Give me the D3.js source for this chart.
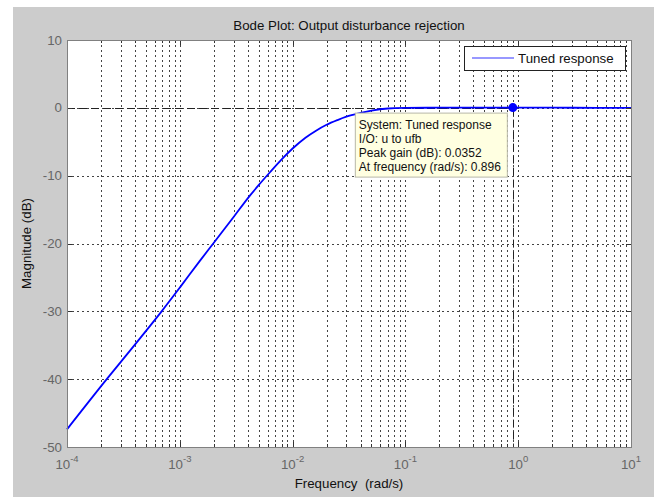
<!DOCTYPE html>
<html lang="en">
<head>
<meta charset="utf-8">
<title>Bode Plot: Output disturbance rejection</title>
<script src="https://cdn.jsdelivr.net/npm/d3@7"></script>
<style>
body { margin: 0; background: #fff; }
svg text { font-family: Arial, "Liberation Sans", Helvetica, sans-serif; }
</style>
</head>
<body>
<script>
// magnitude response (rad/s, dB)
var freq  = [1e-4, 2.25e-4, 4e-4, 6.9e-4, 1e-3, 1.5e-3, 1.98e-3, 3e-3, 4.2e-3, 5e-3, 6.3e-3,
             8e-3, 1e-2, 1.3e-2, 1.6e-2, 2e-2, 2.5e-2, 3e-2, 4e-2, 5e-2, 7e-2, 0.1, 0.2, 0.5, 0.896, 2, 5, 10];
var magDb = [-47.4, -40, -34.9, -30, -26.5, -22.6, -20, -16.1, -12.9, -11.4, -9.5,
             -7.6, -6.0, -4.4, -3.4, -2.5, -1.8, -1.3, -0.75, -0.4, -0.1, -0.02, 0.02, 0.033, 0.0352, 0.02, 0.005, 0.0];

var xTickExp = [-4, -3, -2, -1, 0, 1];
var yTicks = [10, 0, -10, -20, -30, -40, -50];

var seriesName = "Tuned response";
var peakFreq = 0.896, peakGain = 0.0352;
var tipLines = ["System: Tuned response", "I/O: u to ufb", "Peak gain (dB): 0.0352", "At frequency (rad/s): 0.896"];

var W = 654, H = 497;
var margin = {top: 40, right: 23, bottom: 50, left: 67},
    width = W - margin.left - margin.right,
    height = H - margin.top - margin.bottom;

var svg = d3.select("body").append("svg")
    .attr("width", W)
    .attr("height", H);

// figure background
svg.append("rect").attr("x", 13).attr("y", 7).attr("width", W - 13).attr("height", H - 7).attr("fill", "#cccccc");

var x = d3.scaleLog().domain([1e-4, 10]).range([0, width]);
var y = d3.scaleLinear().domain([-50, 10]).range([height, 0]);

var g = svg.append("g").attr("transform", "translate(" + margin.left + "," + margin.top + ")");

g.append("rect").attr("width", width).attr("height", height).attr("fill", "#fff");

// grid
var gridX = [];
xTickExp.forEach(function(e) {
  for (var k = 1; k < 10; k++) {
    var f = k * Math.pow(10, e);
    if (f > 1e-4 && f < 10) gridX.push(f);
  }
});
var gridY = yTicks.filter(function(v) { return v > -50 && v < 10; });

g.selectAll(".gx").data(gridX).enter().append("line")
  .attr("x1", function(d) { return Math.round(x(d)) + 0.5; })
  .attr("x2", function(d) { return Math.round(x(d)) + 0.5; })
  .attr("y1", 0).attr("y2", height)
  .attr("stroke", "#444").attr("stroke-dasharray", "2,3");

g.selectAll(".gy").data(gridY).enter().append("line")
  .attr("y1", function(d) { return Math.round(y(d)) + 0.5; })
  .attr("y2", function(d) { return Math.round(y(d)) + 0.5; })
  .attr("x1", 0).attr("x2", width)
  .attr("stroke", "#444").attr("stroke-dasharray", "2,3");

// data cursor reference lines
var px = x(peakFreq), py = y(peakGain);
g.append("line").attr("x1", 0).attr("x2", px).attr("y1", Math.round(py) + 0.5).attr("y2", Math.round(py) + 0.5)
  .attr("stroke", "#222").attr("stroke-dasharray", "8,4");
g.append("line").attr("x1", Math.round(px) + 0.5).attr("x2", Math.round(px) + 0.5).attr("y1", py).attr("y2", height)
  .attr("stroke", "#222").attr("stroke-dasharray", "8,4");

// response curve
var line = d3.line()
  .x(function(d, i) { return x(freq[i]); })
  .y(function(d) { return y(d); })
  .curve(d3.curveMonotoneX);

g.append("path").datum(magDb)
  .attr("d", line)
  .attr("fill", "none")
  .attr("stroke", "#0000ff")
  .attr("stroke-width", 1.8);

g.append("circle").attr("cx", px).attr("cy", py).attr("r", 4.5).attr("fill", "#0000ff");

// ticks (inside)
xTickExp.forEach(function(e) {
  for (var k = 1; k < 10; k++) {
    var f = k * Math.pow(10, e);
    if (f > 10) break;
    var len = k == 1 ? 5 : 3;
    var xp = Math.round(x(f)) + 0.5;
    g.append("line").attr("x1", xp).attr("x2", xp).attr("y1", height).attr("y2", height - len).attr("stroke", "#333");
    g.append("line").attr("x1", xp).attr("x2", xp).attr("y1", 0).attr("y2", len).attr("stroke", "#333");
  }
});
yTicks.forEach(function(v) {
  var yp = Math.round(y(v)) + 0.5;
  g.append("line").attr("x1", 0).attr("x2", 5).attr("y1", yp).attr("y2", yp).attr("stroke", "#333");
  g.append("line").attr("x1", width).attr("x2", width - 5).attr("y1", yp).attr("y2", yp).attr("stroke", "#333");
});

// axes box
g.append("rect").attr("x", 0.5).attr("y", 0.5).attr("width", width).attr("height", height)
  .attr("fill", "none").attr("stroke", "#808080");

// tick labels
g.selectAll(".yl").data(yTicks).enter().append("text")
  .attr("x", -5).attr("y", function(d) { return y(d) + 4.5; })
  .attr("text-anchor", "end")
  .attr("fill", "#666").style("font-size", "13.3px")
  .text(function(d) { return d; });

var xl = g.selectAll(".xl").data(xTickExp).enter().append("text")
  .attr("x", function(d) { return x(Math.pow(10, d)); })
  .attr("y", height + 22)
  .attr("text-anchor", "middle")
  .attr("fill", "#666").style("font-size", "13.3px");
xl.append("tspan").text("10");
xl.append("tspan").attr("dy", -7).style("font-size", "9.5px").text(function(d) { return d; });

// titles
g.append("text").attr("x", width / 2).attr("y", -10).attr("text-anchor", "middle")
  .attr("fill", "#111").style("font-size", "13.3px").text("Bode Plot: Output disturbance rejection");
g.append("text").attr("x", width / 2).attr("y", height + 41).attr("text-anchor", "middle")
  .attr("fill", "#111").style("font-size", "13.3px").style("white-space", "pre").text("Frequency  (rad/s)");
g.append("text").attr("transform", "translate(" + (-36) + "," + (height / 2) + ") rotate(-90)")
  .attr("text-anchor", "middle")
  .attr("fill", "#111").style("font-size", "13.3px").text("Magnitude (dB)");

// data tip
var tip = g.append("g").attr("transform", "translate(" + (px - 158) + "," + (py + 5) + ")");
tip.append("rect").attr("x", 0.5).attr("y", 0.5).attr("width", 152).attr("height", 64)
  .attr("fill", "#ffffe1").attr("stroke", "#b8b8a8");
tip.selectAll("text").data(tipLines).enter().append("text")
  .attr("x", 4).attr("y", function(d, i) { return 16 + i * 14; })
  .attr("fill", "#111").style("font-size", "12px")
  .text(function(d) { return d; });

// legend
var lg = g.append("g").attr("transform", "translate(" + (width - 167) + ",6)");
lg.append("rect").attr("x", 0.5).attr("y", 0.5).attr("width", 161).attr("height", 24)
  .attr("fill", "#fff").attr("stroke", "#222");
lg.append("line").attr("x1", 8).attr("x2", 50).attr("y1", 12).attr("y2", 12)
  .attr("stroke", "#3333ff").attr("stroke-width", 1.2);
lg.append("text").attr("x", 54).attr("y", 17).attr("fill", "#111").style("font-size", "13.3px").text(seriesName);
</script>
</body>
</html>
